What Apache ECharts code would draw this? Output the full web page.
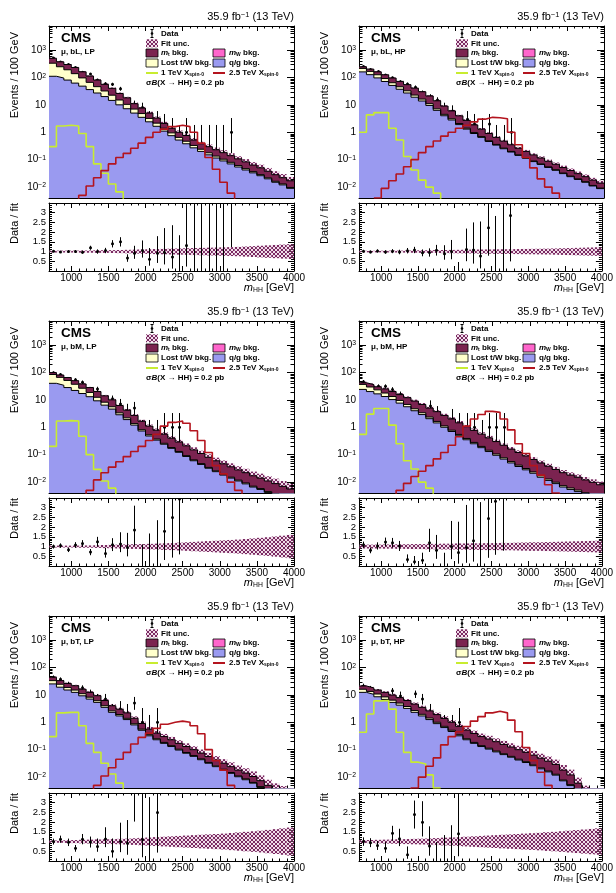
<!DOCTYPE html>
<html>
<head>
<meta charset="utf-8">
<title>mHH distributions</title>
<script src="https://cdn.jsdelivr.net/npm/echarts@6/dist/echarts.min.js"></script>
<style>
html, body { margin: 0; padding: 0; background: #fff; }
#container { width: 616px; height: 893px; }
</style>
</head>
<body>
<div id="container"></div>
<script>
// 100 GeV bins from 700 to 4000 GeV
const edges = [700, 800, 900, 1000, 1100, 1200, 1300, 1400, 1500, 1600, 1700, 1800, 1900, 2000, 2100, 2200, 2300,
  2400, 2500, 2600, 2700, 2800, 2900, 3000, 3100, 3200, 3300, 3400, 3500, 3600, 3700, 3800, 3900, 4000];

// Garwood intervals for small counts
const poisLo = [0, 0.173, 0.708, 1.367, 2.086, 2.840, 3.620, 4.419, 5.232, 6.057, 6.891];
const poisHi = [1.841, 3.300, 4.638, 5.918, 7.163, 8.382, 9.584, 10.77, 11.95, 13.11, 14.27];

// ---- mu, bL, LP
const qg_bL_LP = [110, 95, 80, 62, 48, 36, 27, 20, 14.5, 10, 7.2, 5.0, 3.5, 2.4, 1.65, 1.1, 0.75, 0.52, 0.38, 0.27, 0.2, 0.15, 0.115, 0.09, 0.07, 0.054, 0.042, 0.033, 0.026, 0.02, 0.015, 0.012, 0.009];
const lost_bL_LP = [220, 150, 110, 75, 48, 30, 19, 12, 8, 5, 3.2, 2.0, 1.3, 0.8, 0.5, 0.3, 0.2, 0.13, 0.09, 0.06, 0.04, 0.028, 0.02, 0.014, 0.01, 0.007, 0.005, 0.0035, 0.0025, 0.0018, 0.0013, 0.001, 0.0007];
const mt_bL_LP = [170, 125, 105, 93, 64, 46, 34, 24, 17.5, 11, 7.6, 4.0, 2.8, 1.8, 1.15, 0.7, 0.45, 0.35, 0.29, 0.19, 0.14, 0.12, 0.095, 0.076, 0.06, 0.046, 0.036, 0.027, 0.022, 0.016, 0.012, 0.009, 0.0073];
const sig1_bL_LP = [0.3, 1.7, 1.8, 1.7, 0.9, 0.3, 0.07, 0.032, 0.013, 0.0067, 0.002];
const sig25_bL_LP = [null, null, null, 0.001, 0.005, 0.011, 0.022, 0.04, 0.07, 0.12, 0.17, 0.26, 0.4, 0.65, 1.0, 1.3, 1.6, 1.8, 1.6, 1.0, 0.4, 0.12, 0.045, 0.015, 0.006, 0.002];
const data_bL_LP = [510, 363, 295, 230, 155, 134, 80, 59, 56, 39, 12, 10, 8, 3, 3, 2, 1, 0, 1, 0, 0, 0, 0, 0, 1];
const unc_bL_LP = [0.05, 0.05, 0.05, 0.05, 0.055, 0.06, 0.065, 0.07, 0.075, 0.08, 0.09, 0.1, 0.11, 0.12, 0.13, 0.14, 0.15, 0.16, 0.17, 0.18, 0.19, 0.2, 0.21, 0.22, 0.23, 0.24, 0.26, 0.28, 0.3, 0.32, 0.34, 0.36, 0.38];

// ---- mu, bL, HP
const qg_bL_HP = [159, 126, 96, 71, 51, 37, 27, 19, 13.8, 9.5, 6.3, 4.0, 2.8, 1.9, 1.3, 0.9, 0.65, 0.46, 0.34, 0.25, 0.19, 0.143, 0.112, 0.085, 0.067, 0.052, 0.041, 0.031, 0.024, 0.019, 0.015, 0.011, 0.0088];
const lost_bL_HP = [54, 40, 29, 20, 13, 8.6, 5.5, 3.7, 2.4, 1.5, 0.84, 0.5, 0.3, 0.18, 0.11, 0.074, 0.045, 0.03, 0.02, 0.014, 0.01, 0.008, 0.006, 0.0045, 0.0035, 0.0026, 0.002, 0.0016, 0.0012, 0.0009, 0.0007, 0.0005, 0.0004];
const mt_bL_HP = [32, 34, 35, 34, 31, 26, 22, 18, 13.8, 10, 6.9, 4.5, 2.9, 1.9, 1.3, 0.88, 0.6, 0.41, 0.29, 0.21, 0.15, 0.11, 0.082, 0.06, 0.045, 0.033, 0.025, 0.019, 0.015, 0.011, 0.0083, 0.0065, 0.0048];
const sig1_bL_HP = [1.0, 4.3, 5.2, 5.2, 1.4, 0.52, 0.13, 0.042, 0.018, 0.01, 0.006, 0.002];
const sig25_bL_HP = [null, null, 0.004, 0.009, 0.017, 0.03, 0.055, 0.1, 0.18, 0.3, 0.48, 0.72, 1.0, 1.4, 1.8, 2.4, 3.0, 3.5, 3.4, 3.1, 1.0, 0.35, 0.12, 0.05, 0.02, 0.01, 0.006, 0.003];
const data_bL_HP = [250, 196, 165, 122, 97, 70, 57, 44, 28, 20, 15, 8, 6, 0, 3, 2, 1, 2, 0, 0, 1];
const unc_bL_HP = [0.04, 0.04, 0.04, 0.045, 0.05, 0.05, 0.055, 0.06, 0.065, 0.07, 0.075, 0.08, 0.085, 0.09, 0.095, 0.1, 0.105, 0.11, 0.115, 0.12, 0.125, 0.13, 0.135, 0.14, 0.145, 0.15, 0.16, 0.17, 0.18, 0.19, 0.2, 0.21, 0.22];

// ---- mu, bM, LP
const qg_bM_LP = [40, 34, 28, 22, 17, 13, 9.2, 6.4, 4.6, 2.85, 1.9, 1.2, 0.73, 0.48, 0.34, 0.24, 0.17, 0.122, 0.086, 0.06, 0.044, 0.032, 0.024, 0.018, 0.014, 0.011, 0.0086, 0.0066, 0.0054, 0.0042, 0.0034, 0.0027, 0.0021];
const lost_bM_LP = [44, 32, 23, 15, 9.5, 5.6, 3.2, 1.8, 1.0, 0.5, 0.3, 0.16, 0.083, 0.05, 0.031, 0.02, 0.012, 0.009, 0.006, 0.0045, 0.0033, 0.0024, 0.0018, 0.0014, 0.0011, 0.0008, 0.0007, 0.0005, 0.0004, 0.0003, 0.0003, 0.0002, 0.0002];
const mt_bM_LP = [14, 14, 14, 13, 11.5, 9.4, 7.6, 5.8, 4.4, 2.85, 2.0, 1.34, 0.84, 0.57, 0.41, 0.3, 0.218, 0.159, 0.118, 0.085, 0.063, 0.046, 0.034, 0.027, 0.021, 0.016, 0.0127, 0.0099, 0.0082, 0.0065, 0.0051, 0.0041, 0.0033];
const sig1_bM_LP = [0.2, 1.7, 1.75, 1.7, 0.47, 0.1, 0.029, 0.011, 0.006, 0.002];
const sig25_bM_LP = [null, null, null, null, 0.002, 0.005, 0.012, 0.022, 0.035, 0.055, 0.085, 0.13, 0.2, 0.33, 0.55, 1.1, 1.5, 1.7, 1.4, 0.75, 0.33, 0.12, 0.04, 0.02, 0.01, 0.005, 0.002];
const data_bM_LP = [98, 84, 54, 54, 44, 20, 25, 9, 11, 7, 4, 5, 0, 0, 0, 1, 1, 1];
const unc_bM_LP = [0.05, 0.05, 0.05, 0.05, 0.06, 0.06, 0.07, 0.08, 0.09, 0.1, 0.11, 0.12, 0.13, 0.14, 0.15, 0.17, 0.18, 0.2, 0.22, 0.24, 0.26, 0.28, 0.3, 0.32, 0.34, 0.36, 0.39, 0.42, 0.45, 0.48, 0.52, 0.56, 0.6];

// ---- mu, bM, HP
const qg_bM_HP = [24, 20, 16.5, 13.2, 10.2, 7.6, 5.6, 4.0, 2.9, 2.05, 1.44, 1.0, 0.7, 0.49, 0.35, 0.25, 0.18, 0.13, 0.095, 0.069, 0.05, 0.037, 0.028, 0.021, 0.015, 0.0115, 0.0088, 0.0066, 0.0054, 0.0045, 0.0036, 0.0029, 0.0024];
const lost_bM_HP = [12.6, 9.4, 6.6, 4.5, 3.0, 1.9, 1.2, 0.72, 0.48, 0.3, 0.19, 0.12, 0.08, 0.058, 0.04, 0.03, 0.02, 0.015, 0.011, 0.008, 0.006, 0.0045, 0.0033, 0.0025, 0.0019, 0.0014, 0.0011, 0.0008, 0.0007, 0.0006, 0.0005, 0.0004, 0.0003];
const mt_bM_HP = [5.4, 6.6, 6.9, 7.3, 6.8, 6.0, 5.2, 4.3, 3.4, 2.65, 2.07, 1.58, 1.22, 0.9, 0.66, 0.49, 0.36, 0.265, 0.194, 0.143, 0.104, 0.0785, 0.0587, 0.0435, 0.033, 0.025, 0.019, 0.0146, 0.0119, 0.0099, 0.0079, 0.0065, 0.0053];
const sig1_bM_HP = [0.55, 3.0, 4.8, 4.8, 1.2, 0.25, 0.06, 0.03, 0.01, 0.006, 0.002];
const sig25_bM_HP = [null, null, null, null, 0.002, 0.005, 0.009, 0.016, 0.025, 0.04, 0.07, 0.12, 0.22, 0.45, 1.1, 2.0, 2.9, 3.8, 3.5, 2.0, 0.8, 0.25, 0.11, 0.04, 0.018, 0.008, 0.004, 0.002];
const data_bM_HP = [46, 29, 31, 31, 24, 16, 4, 2, 2, 6, 3, 0, 2, 1, 1, 1, 0, 1, 1, 1];
const unc_bM_HP = [0.1, 0.1, 0.1, 0.11, 0.11, 0.12, 0.12, 0.13, 0.13, 0.14, 0.14, 0.15, 0.15, 0.16, 0.16, 0.17, 0.17, 0.18, 0.18, 0.19, 0.19, 0.2, 0.21, 0.22, 0.22, 0.23, 0.24, 0.25, 0.26, 0.27, 0.28, 0.29, 0.3];

// ---- mu, bT, LP
const qg_bT_LP = [25, 19, 15, 12.3, 9.2, 7.0, 5.3, 3.5, 2.3, 1.7, 1.25, 0.8, 0.51, 0.32, 0.23, 0.17, 0.13, 0.097, 0.074, 0.057, 0.043, 0.032, 0.024, 0.018, 0.0137, 0.0103, 0.008, 0.006, 0.0042, 0.0029, 0.0021, 0.0016, 0.0011];
const lost_bT_LP = [8, 5.3, 3.6, 2.6, 1.8, 1.2, 0.8, 0.5, 0.3, 0.21, 0.14, 0.08, 0.05, 0.03, 0.02, 0.014, 0.01, 0.007, 0.005, 0.004, 0.003, 0.0022, 0.0017, 0.0013, 0.001, 0.0007, 0.0006, 0.0004, 0.0003, 0.0002, 0.00015, 0.0001, 0.0001];
const mt_bT_LP = [11, 8.7, 7.4, 6.6, 5.0, 4.1, 3.2, 2.2, 1.4, 1.09, 0.81, 0.52, 0.34, 0.21, 0.15, 0.116, 0.09, 0.066, 0.051, 0.039, 0.029, 0.0218, 0.0163, 0.0127, 0.0093, 0.007, 0.0054, 0.0041, 0.0029, 0.0019, 0.00135, 0.0011, 0.0008];
const sig1_bT_LP = [0.3, 2.2, 2.3, 2.3, 0.75, 0.17, 0.08, 0.032, 0.013, 0.006, 0.002];
const sig25_bT_LP = [null, null, null, null, null, 0.002, 0.005, 0.011, 0.022, 0.045, 0.08, 0.16, 0.28, 0.4, 0.6, 0.85, 1.0, 1.1, 1.0, 0.75, 0.38, 0.1, 0.04, 0.018, 0.005, 0.002];
const data_bT_LP = [44, 37, 25, 14, 18, 12, 7, 7, 2, 3, 2, 5, 1, 0, 1];
const unc_bT_LP = [0.06, 0.06, 0.07, 0.08, 0.09, 0.1, 0.11, 0.12, 0.13, 0.14, 0.15, 0.17, 0.19, 0.21, 0.23, 0.25, 0.27, 0.29, 0.31, 0.33, 0.35, 0.37, 0.39, 0.41, 0.44, 0.47, 0.5, 0.53, 0.56, 0.6, 0.64, 0.68, 0.72];

// ---- mu, bT, HP
const qg_bT_HP = [12.3, 10.4, 8.5, 6.8, 5.3, 4.2, 3.2, 2.3, 1.7, 1.25, 0.89, 0.64, 0.46, 0.32, 0.23, 0.17, 0.13, 0.105, 0.083, 0.066, 0.053, 0.042, 0.034, 0.026, 0.02, 0.0155, 0.0118, 0.0073, 0.0049, 0.0024, 0.0012, 0.0008, 0.0006];
const lost_bT_HP = [3.7, 2.9, 2.2, 1.6, 1.1, 0.8, 0.55, 0.37, 0.25, 0.17, 0.11, 0.07, 0.05, 0.03, 0.02, 0.014, 0.01, 0.008, 0.006, 0.005, 0.004, 0.003, 0.0024, 0.0019, 0.0015, 0.0011, 0.0009, 0.0005, 0.0004, 0.0002, 0.0001, 0.0001, 0.00005];
const mt_bT_HP = [5, 4.7, 4.3, 3.9, 3.4, 2.9, 2.45, 1.93, 1.55, 1.18, 0.9, 0.67, 0.49, 0.36, 0.27, 0.206, 0.16, 0.132, 0.106, 0.084, 0.068, 0.055, 0.0436, 0.0351, 0.0275, 0.0214, 0.0163, 0.0102, 0.0067, 0.0034, 0.0017, 0.0011, 0.00085];
const sig1_bT_HP = [0.43, 2.0, 6.0, 6.2, 3.0, 0.43, 0.08, 0.035, 0.03, 0.012, 0.004];
const sig25_bT_HP = [null, null, null, null, null, null, 0.002, 0.004, 0.01, 0.025, 0.05, 0.15, 0.3, 0.45, 0.7, 1.1, 1.6, 2.2, 2.5, 2.2, 1.2, 0.45, 0.12, 0.04, 0.015, 0.005, 0.002];
const data_bT_HP = [21, 17, 12, 8, 14, 9, 2, 11, 7, 2, 0, 0, 0, 1];
const unc_bT_HP = [0.08, 0.08, 0.09, 0.1, 0.11, 0.12, 0.13, 0.14, 0.15, 0.16, 0.18, 0.2, 0.21, 0.23, 0.25, 0.27, 0.29, 0.31, 0.33, 0.35, 0.37, 0.39, 0.41, 0.43, 0.45, 0.48, 0.5, 0.53, 0.56, 0.59, 0.62, 0.65, 0.68];

const panels = [
  {tag: 'μ, bL, LP', qg: qg_bL_LP, lost: lost_bL_LP, mt: mt_bL_LP, sig1: sig1_bL_LP, sig25: sig25_bL_LP, data: data_bL_LP, unc: unc_bL_LP},
  {tag: 'μ, bL, HP', qg: qg_bL_HP, lost: lost_bL_HP, mt: mt_bL_HP, sig1: sig1_bL_HP, sig25: sig25_bL_HP, data: data_bL_HP, unc: unc_bL_HP},
  {tag: 'μ, bM, LP', qg: qg_bM_LP, lost: lost_bM_LP, mt: mt_bM_LP, sig1: sig1_bM_LP, sig25: sig25_bM_LP, data: data_bM_LP, unc: unc_bM_LP},
  {tag: 'μ, bM, HP', qg: qg_bM_HP, lost: lost_bM_HP, mt: mt_bM_HP, sig1: sig1_bM_HP, sig25: sig25_bM_HP, data: data_bM_HP, unc: unc_bM_HP},
  {tag: 'μ, bT, LP', qg: qg_bT_LP, lost: lost_bT_LP, mt: mt_bT_LP, sig1: sig1_bT_LP, sig25: sig25_bT_LP, data: data_bT_LP, unc: unc_bT_LP},
  {tag: 'μ, bT, HP', qg: qg_bT_HP, lost: lost_bT_HP, mt: mt_bT_HP, sig1: sig1_bT_HP, sig25: sig25_bT_HP, data: data_bT_HP, unc: unc_bT_HP}
];

const FONT = "'Liberation Sans', Arial, Helvetica, sans-serif";
const YMIN = 0.004, YMAX = 7500;
const COL = {qg: '#9a9af0', lost: '#ffffcc', mt: '#7b2350', mw: '#ff66cc', sig1: '#c8ec30', sig25: '#b4141e'};

// cross-hatch used for the fit uncertainty
const hatchCanvas = document.createElement('canvas');
hatchCanvas.width = 4; hatchCanvas.height = 4;
(function () {
  const g = hatchCanvas.getContext('2d');
  g.fillStyle = 'rgba(214, 160, 196, 0.35)';
  g.fillRect(0, 0, 4, 4);
  g.strokeStyle = '#7a2a62';
  g.lineWidth = 1;
  g.beginPath();
  g.moveTo(0, 0); g.lineTo(4, 4);
  g.moveTo(4, 0); g.lineTo(0, 4);
  g.stroke();
})();
const hatch = {image: hatchCanvas, repeat: 'repeat'};

function rich(size, weight) {
  return {
    sup: {fontSize: size * 0.68, lineHeight: size * 0.8, verticalAlign: 'top', fontFamily: FONT, fontWeight: weight},
    sub: {fontSize: size * 0.62, lineHeight: size * 0.6, verticalAlign: 'bottom', fontFamily: FONT, fontWeight: weight},
    it: {fontStyle: 'italic', fontSize: size, fontFamily: FONT, fontWeight: weight}
  };
}

// histogram as step line: one point per left edge plus closing edge
function steps(vals) {
  const out = [];
  let last = -1;
  vals.forEach((v, i) => { if (v != null) { out.push([edges[i], v]); last = i; } });
  out.push([edges[last + 1], vals[last]]);
  return out;
}

function logLabel(v) {
  const e = Math.log10(v), r = Math.round(e);
  if (Math.abs(e - r) > 1e-6) return '';
  if (r === 0) return '1';
  if (r === 1) return '10';
  return '10{sup|' + (r < 0 ? '\u2212' + (-r) : r) + '}';
}

function seg(x1, y1, x2, y2) {
  return {type: 'line', shape: {x1, y1, x2, y2}, style: {stroke: '#000', lineWidth: 1}};
}

function renderTicks(params, api) {
  const cs = params.coordSys;
  if (api.value(2) === 0) {
    const px = Math.round(api.coord([api.value(0), api.value(1)])[0]) + 0.5;
    return {type: 'group', children: [
      seg(px, cs.y + cs.height, px, cs.y + cs.height - 2.5),
      seg(px, cs.y, px, cs.y + 2.5)
    ]};
  }
  const py = Math.round(api.coord([api.value(0), api.value(1)])[1]) + 0.5;
  return {type: 'group', children: [
    seg(cs.x, py, cs.x + 3.5, py),
    seg(cs.x + cs.width, py, cs.x + cs.width - 3.5, py)
  ]};
}

function renderBand(params, api) {
  const a = api.coord([api.value(0), api.value(3)]);
  const b = api.coord([api.value(1), api.value(2)]);
  return {type: 'rect', shape: {x: a[0], y: a[1], width: b[0] - a[0], height: b[1] - a[1]}, style: {fill: hatch}};
}

function renderData(params, api) {
  const x = api.value(0);
  const a = api.coord([x, api.value(1)]), b = api.coord([x, api.value(2)]);
  const px = Math.round(a[0]) + 0.5;
  const ch = [seg(px, a[1], px, b[1])];
  if (api.value(4) === 1) {
    const c = api.coord([x, api.value(3)]);
    ch.push({type: 'circle', shape: {cx: px, cy: c[1], r: 1.5}, style: {fill: '#000'}});
  }
  return {type: 'group', children: ch};
}

const grids = [], xAxes = [], yAxes = [], series = [], elements = [];

function addAxes(g, isLog, withLabels) {
  const xb = {type: 'value', gridIndex: g, min: 700, max: 4000, splitLine: {show: false},
    axisLine: {onZero: false, lineStyle: {color: '#000', width: 1}},
    axisTick: {inside: true, length: 5, lineStyle: {color: '#000'}}};
  xAxes.push(Object.assign({}, xb, {position: 'bottom',
    axisLabel: {show: withLabels, color: '#000', fontSize: 10, fontFamily: FONT, margin: 2, showMinLabel: false,
      formatter: v => String(v)}}));
  xAxes.push(Object.assign({}, xb, {position: 'top', axisLabel: {show: false}}));

  const yb = isLog
    ? {type: 'log', logBase: 10, min: YMIN, max: YMAX}
    : {type: 'value', min: 0, max: 3.5, interval: 0.5,
       minorTick: {show: true, splitNumber: 5, length: 3, lineStyle: {color: '#000'}}};
  Object.assign(yb, {gridIndex: g, splitLine: {show: false},
    axisLine: {onZero: false, lineStyle: {color: '#000', width: 1}},
    axisTick: {inside: true, length: isLog ? 7 : 6, lineStyle: {color: '#000'}}});
  const lab = isLog
    ? {color: '#000', fontSize: 10, fontFamily: FONT, margin: 3, formatter: logLabel, rich: rich(10, 'normal'),
       showMinLabel: false, showMaxLabel: false}
    : {color: '#000', fontSize: 9.5, lineHeight: 10, fontFamily: FONT, margin: 3, showMinLabel: false, showMaxLabel: false,
       hideOverlap: false, formatter: v => String(v)};
  yAxes.push(Object.assign({}, yb, {position: 'left', axisLabel: lab}));
  yAxes.push(Object.assign({}, yb, {position: 'right', axisLabel: {show: false}}));
}

// minor tick positions (axis decoration)
const xMinor = [];
edges.forEach(x => { if (x > 700 && x < 4000 && x % 500 !== 0) xMinor.push([x, 1, 0]); });
const yMinor = [];
for (let k = -3; k <= 3; k++) {
  for (let m = 2; m <= 9; m++) {
    const v = m * Math.pow(10, k);
    if (v > YMIN && v < YMAX) yMinor.push([1000, v, 1]);
  }
}

const txtStyle = (text, size, weight, align, extra) => Object.assign({
  text, fill: '#000', fontSize: size, fontWeight: weight, fontFamily: FONT,
  align: align, verticalAlign: 'middle', rich: rich(size, weight)
}, extra || {});

panels.forEach((p, k) => {
  const col = k % 2, row = Math.floor(k / 2);
  const gl = col ? 359 : 49, W = 245;
  const tM = 26 + row * 295, hM = 172;
  const tR = 203 + row * 295, hR = 68;

  const gm = grids.length;
  grids.push({left: gl, top: tM, width: W, height: hM});
  addAxes(gm, true, false);
  const gr = grids.length;
  grids.push({left: gl, top: tR, width: W, height: hR});
  addAxes(gr, false, true);

  const total = p.qg.map((q, i) => q + p.lost[i] + p.mt[i]);
  const lostTop = p.qg.map((q, i) => q + p.lost[i]);
  const axM = {xAxisIndex: 2 * gm, yAxisIndex: 2 * gm};
  const axR = {xAxisIndex: 2 * gr, yAxisIndex: 2 * gr};

  const area = (vals, color) => Object.assign({
    type: 'line', step: 'end', data: steps(vals), symbol: 'none', silent: true,
    lineStyle: {color: '#000', width: 1}, areaStyle: {color, opacity: 1, origin: 'start'}
  }, axM);
  series.push(area(total, COL.mt));
  series.push(area(lostTop, COL.lost));
  series.push(area(p.qg, COL.qg));

  series.push(Object.assign({type: 'custom', clip: true, silent: true, renderItem: renderBand,
    data: p.unc.map((u, i) => [edges[i], edges[i + 1], Math.max(total[i] * (1 - u), YMIN), Math.max(total[i] * (1 + u), YMIN)])}, axM));

  series.push(Object.assign({type: 'line', step: 'end', data: steps(p.sig1), symbol: 'none', silent: true,
    lineStyle: {color: COL.sig1, width: 1.6}}, axM));
  series.push(Object.assign({type: 'line', step: 'end', data: steps(p.sig25), symbol: 'none', silent: true,
    lineStyle: {color: COL.sig25, width: 1.6}}, axM));

  const mainPts = [], ratioPts = [];
  p.data.forEach((n, i) => {
    if (n == null) return;
    const xc = edges[i] + 50, T = total[i];
    const lo = n <= 10 ? poisLo[n] : n - Math.sqrt(n);
    const hi = n <= 10 ? poisHi[n] : n + Math.sqrt(n);
    mainPts.push([xc, n > 0 ? lo : YMIN, hi, n > 0 ? n : YMIN, n > 0 ? 1 : 0]);
    ratioPts.push([xc, lo / T, hi / T, n / T, n > 0 ? 1 : 0]);
  });
  series.push(Object.assign({type: 'custom', clip: true, silent: true, renderItem: renderData, data: mainPts}, axM));
  series.push(Object.assign({type: 'custom', silent: true, renderItem: renderTicks, data: xMinor.concat(yMinor)}, axM));

  series.push(Object.assign({type: 'custom', clip: true, silent: true, renderItem: renderBand,
    data: p.unc.map((u, i) => [edges[i], edges[i + 1], 1 - u, 1 + u])}, axR));
  series.push(Object.assign({type: 'custom', clip: true, silent: true, renderItem: renderData, data: ratioPts}, axR));
  series.push(Object.assign({type: 'custom', silent: true, renderItem: renderTicks, data: xMinor}, axR));

  // texts
  elements.push({type: 'text', x: gl + W, y: tM - 9.5, z: 100,
    style: txtStyle('35.9 fb{sup|\u22121} (13 TeV)', 11, 'normal', 'right')});
  elements.push({type: 'text', x: gl + 12, y: tM + 12, z: 100, style: txtStyle('CMS', 13.5, 'bold', 'left')});
  elements.push({type: 'text', x: gl + 12, y: tM + 26, z: 100, style: txtStyle(p.tag, 8, 'bold', 'left')});
  elements.push({type: 'text', x: gl - 34, y: tM + 6, rotation: Math.PI / 2, z: 100,
    style: txtStyle('Events / 100 GeV', 11, 'normal', 'right')});
  elements.push({type: 'text', x: gl - 34, y: tR, rotation: Math.PI / 2, z: 100,
    style: txtStyle('Data / fit', 11, 'normal', 'right')});
  elements.push({type: 'text', x: gl + W, y: tR + hR + 17, z: 100,
    style: txtStyle('{it|m}{sub|HH} [GeV]', 11, 'normal', 'right')});

  // legend
  const rows = [7.5, 17.3, 27, 37, 47, 56.7].map(r => tM + r);
  const c1 = gl + 97, c2 = gl + 164;
  const box = (x, y, fill, stroke) => elements.push({type: 'rect', z: 100,
    shape: {x, y: y - 4, width: 12, height: 8}, style: {fill, stroke: stroke ? '#000' : null, lineWidth: 0.8}});
  const lab = (x, y, t) => elements.push({type: 'text', x, y, z: 100, style: txtStyle(t, 8, 'bold', 'left')});
  const dx = c1 + 6;
  elements.push({type: 'group', z: 100, children: [
    seg(dx, rows[0] - 4, dx, rows[0] + 4), seg(dx - 1.5, rows[0] - 4, dx + 1.5, rows[0] - 4),
    seg(dx - 1.5, rows[0] + 4, dx + 1.5, rows[0] + 4),
    {type: 'circle', shape: {cx: dx, cy: rows[0], r: 1.3}, style: {fill: '#000'}}
  ]});
  lab(c1 + 15, rows[0], 'Data');
  box(c1, rows[1], hatch, false);
  lab(c1 + 15, rows[1], 'Fit unc.');
  box(c1, rows[2], COL.mt, true);
  lab(c1 + 15, rows[2], '{it|m}{sub|t} bkg.');
  box(c2, rows[2], COL.mw, true);
  lab(c2 + 16, rows[2], '{it|m}{sub|W} bkg.');
  box(c1, rows[3], COL.lost, true);
  lab(c1 + 15, rows[3], 'Lost t/W bkg.');
  box(c2, rows[3], COL.qg, true);
  lab(c2 + 16, rows[3], 'q/g bkg.');
  elements.push({type: 'line', z: 100, shape: {x1: c1, y1: rows[4], x2: c1 + 12, y2: rows[4]}, style: {stroke: COL.sig1, lineWidth: 2}});
  lab(c1 + 15, rows[4], '1 TeV X{sub|spin-0}');
  elements.push({type: 'line', z: 100, shape: {x1: c2, y1: rows[4], x2: c2 + 12, y2: rows[4]}, style: {stroke: COL.sig25, lineWidth: 2}});
  lab(c2 + 16, rows[4], '2.5 TeV X{sub|spin-0}');
  lab(c1, rows[5], 'σ{it|B}(X \u2192 HH) = 0.2 pb');
});

const chart = echarts.init(document.getElementById('container'), null, {renderer: 'canvas'});
chart.setOption({
  animation: false,
  grid: grids,
  xAxis: xAxes,
  yAxis: yAxes,
  series: series,
  graphic: {elements: elements}
});
window.addEventListener('resize', chart.resize);
</script>
</body>
</html>
